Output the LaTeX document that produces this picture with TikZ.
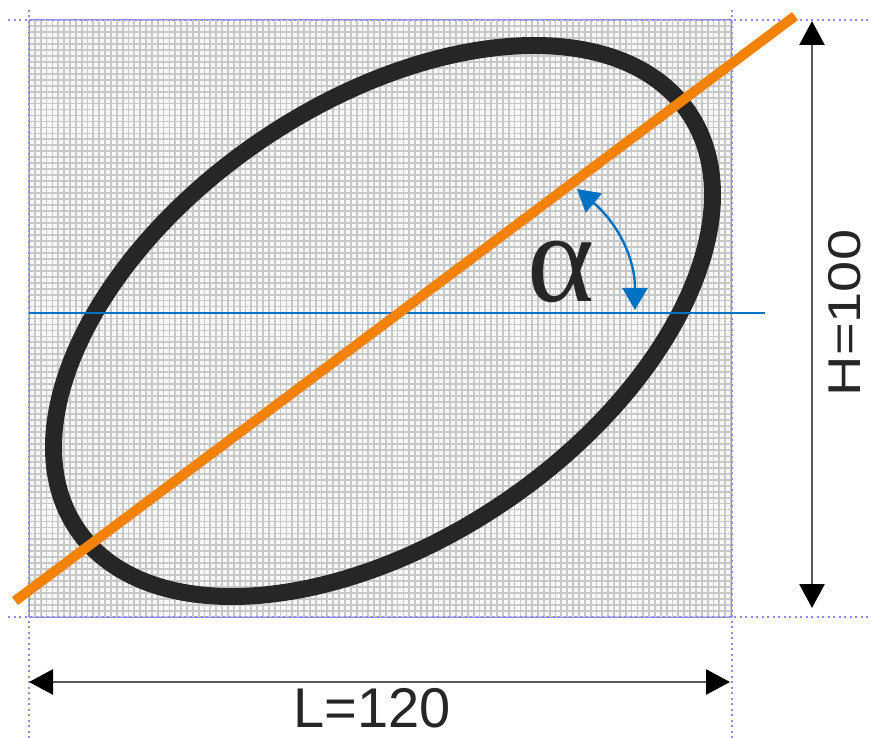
\documentclass[tikz,border=0pt]{standalone}
\usepackage{fontspec}
\setmainfont{Liberation Sans}
\newfontfamily\greekserif{Liberation Serif}
\usepackage{graphicx}
\usetikzlibrary{arrows.meta}
\definecolor{cellfill}{HTML}{F8F8F8}
\definecolor{gridline}{HTML}{C8C8C8}
\definecolor{guideblue}{HTML}{8C8CFF}
\definecolor{axisblue}{HTML}{0072C6}
\definecolor{rodorange}{HTML}{F28200}
\definecolor{curvedark}{HTML}{262626}
\definecolor{dimgrey}{HTML}{5A5A5A}

\begin{document}
\begin{tikzpicture}[x=1pt,y=-1pt,
  every node/.style={text=curvedark,inner sep=0pt},
  gridln/.style={gridline,line width=1.8pt},
  guide/.style={guideblue,line width=1.6pt,dash pattern=on 2pt off 3.5pt},
  dimline/.style={dimgrey,line width=2.8pt,{Triangle[length=24pt,width=25pt,color=black]}-{Triangle[length=24pt,width=25pt,color=black]}},
  angarrow/.style={axisblue,line width=2.4pt,{Triangle[length=22pt,width=25pt]}-{Triangle[length=22pt,width=25pt]}},
  dimfont/.style={font=\fontsize{56}{58}\selectfont}
]
\useasboundingbox[fill=white] (0,0) rectangle (871,738);

% grid field 120 x 100
\fill[cellfill] (29,20) rectangle (731,617);
\foreach \i in {0,...,120} \draw[gridln] ({29+5.85*\i},20) -- ({29+5.85*\i},617);
\foreach \j in {0,...,100} \draw[gridln] (29,{20+5.97*\j}) -- (731,{20+5.97*\j});
\draw[guideblue,line width=1pt] (29,20) rectangle (731,617);

% guides
\draw[guide] (8,20) -- (871,20);
\draw[guide] (8,617) -- (871,617);
\draw[guide] (29,10) -- (29,738);
\draw[guide] (732,10) -- (732,738);

% ellipse and axes
\draw[curvedark,line width=17pt] (383,321) ellipse [x radius=370,y radius=218,rotate=34.3];
\draw[axisblue,line width=1.6pt] (29,313) -- (765,313);
\draw[rodorange,line width=10pt] (15,601) -- (795,16);

% angle
\coordinate (angtop) at (577,189);
\coordinate (angbot) at (635,310);
\draw[angarrow] (angtop) to[out=-40,in=90] (angbot);
\node[font=\greekserif\fontsize{128}{130}\selectfont] (alpha) at (561,272) {α};

% dimensions
\coordinate (wl) at (29,682);
\coordinate (wr) at (730,682);
\coordinate (ht) at (812,21);
\coordinate (hb) at (812,608);
\draw[dimline] (wl) -- (wr);
\draw[dimline] (ht) -- (hb);
\node[dimfont] (lenlabel) at (372,708) {L=120};
\node[dimfont,rotate=90] (hgtlabel) at (845,313) {\scalebox{1}[0.82]{H=100}};
\end{tikzpicture}
\end{document}
